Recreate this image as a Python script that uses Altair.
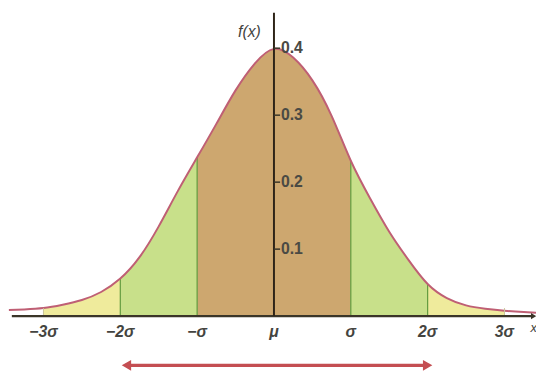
import altair as alt
import pandas as pd

# curve samples (x in sigma units, f(x))
curve_x = [-3.45, -3.25, -3.0, -2.75, -2.5, -2.25, -2.0, -1.75, -1.5, -1.25, -1.0,
           -0.75, -0.5, -0.25, 0.0, 0.25, 0.5, 0.75, 1.0, 1.25, 1.5, 1.75, 2.0,
           2.25, 2.5, 2.75, 3.0, 3.25, 3.41]
curve_y = [0.009, 0.010, 0.012, 0.017, 0.024, 0.036, 0.056, 0.088, 0.134, 0.187, 0.237,
           0.287, 0.337, 0.377, 0.399, 0.386, 0.352, 0.299, 0.232, 0.176, 0.126, 0.084, 0.048,
           0.027, 0.016, 0.011, 0.008, 0.006, 0.005]

# shaded regions: (start, end, kind)
region_start = [-3.0, -2.0, -1.0, 1.0, 2.0]
region_end = [-2.0, -1.0, 1.0, 2.0, 3.0]
region_kind = ["yellow", "green", "brown", "green", "yellow"]
region_colors = {"yellow": "#efeb9c", "green": "#c8e08a", "brown": "#cda76f"}

boundaries = [-2.0, -1.0, 1.0, 2.0]

xtick_vals = [-3, -2, -1, 0, 1, 2, 3]
xtick_labels = ["−3σ", "−2σ", "−σ", "μ", "σ", "2σ", "3σ"]
ytick_vals = [0.1, 0.2, 0.3, 0.4]
ytick_labels = ["0.1", "0.2", "0.3", "0.4"]

arrow_from, arrow_to = -1.92, 2.0

XD = [-3.4615, 3.4103]
YD = [-0.0853, 0.4559]
xs = alt.Scale(domain=XD)
ys = alt.Scale(domain=YD)

curve = pd.DataFrame({"x": curve_x, "y": curve_y})
lookup = dict(zip(curve_x, curve_y))

rows = []
for i, (a, b, k) in enumerate(zip(region_start, region_end, region_kind)):
    for xv in curve_x:
        if a <= xv <= b:
            rows.append({"x": xv, "y": lookup[xv], "y0": 0.0, "seg": i, "kind": k})
regions = pd.DataFrame(rows)

X = alt.X("x:Q", scale=xs, axis=None)
Y = alt.Y("y:Q", scale=ys, axis=None)

area = alt.Chart(regions).mark_area(opacity=1, interpolate="natural").encode(
    x=X, y=Y, y2="y0:Q", detail="seg:N",
    color=alt.Color("kind:N", scale=alt.Scale(domain=list(region_colors.keys()),
                                               range=list(region_colors.values())), legend=None),
)

bdf = pd.DataFrame({"x": boundaries, "y": [lookup[b] for b in boundaries], "y0": [0.0] * 4})
blines = alt.Chart(bdf).mark_rule(color="#5f9a3c", strokeWidth=1.2).encode(
    x=X, y=Y, y2="y0:Q")

line = alt.Chart(curve).mark_line(color="#bf5f74", strokeWidth=2, interpolate="natural").encode(x=X, y=Y)

# axes
xaxis = alt.Chart(pd.DataFrame({"x": [XD[0] + 0.05], "x1": [3.37], "y": [0.0]})).mark_rule(
    color="#3a3528", strokeWidth=2.5).encode(x=X, x2="x1:Q", y=Y)
xhead = alt.Chart(pd.DataFrame({"x": [3.38], "y": [0.0]})).mark_point(
    shape="triangle-right", filled=True, size=40, color="#3a3528", opacity=1).encode(x=X, y=Y)
yaxis = alt.Chart(pd.DataFrame({"x": [0.0], "y": [0.0], "y1": [0.4529]})).mark_rule(
    color="#2e2418", strokeWidth=2).encode(x=X, y=Y, y2="y1:Q")

yt = pd.DataFrame({"y": ytick_vals, "lab": ytick_labels, "x": [0.0] * 4, "x1": [0.08] * 4,
                   "xl": [0.09] * 4})
yticks = alt.Chart(yt).mark_rule(color="#3a3528", strokeWidth=1.5).encode(
    x=X, x2="x1:Q", y=Y)
ylabs = alt.Chart(yt).mark_text(align="left", baseline="middle", fontSize=16, fontWeight="bold",
                                font="Liberation Sans", color="#4a4a44").encode(
    x=alt.X("xl:Q", scale=xs, axis=None), y=Y, text="lab:N")

xt = pd.DataFrame({"x": xtick_vals, "lab": xtick_labels, "y": [-0.024] * 7})
xtick3 = alt.Chart(pd.DataFrame({"x": [-3.0, 3.0], "y": [0.012, 0.012], "y0": [0.0, 0.0]})).mark_rule(
    color="#c9c49a", strokeWidth=1).encode(x=X, y=Y, y2="y0:Q")
xlabs = alt.Chart(xt).mark_text(baseline="middle", fontSize=16, fontStyle="italic", fontWeight="bold",
                                font="Liberation Sans", color="#444440").encode(
    x=X, y=Y, text="lab:N")

fx = alt.Chart(pd.DataFrame({"x": [-0.32], "y": [0.424], "t": ["f(x)"]})).mark_text(
    fontSize=16, fontStyle="italic", font="Liberation Sans", color="#444440").encode(
    x=X, y=Y, text="t:N")
xlab = alt.Chart(pd.DataFrame({"x": [3.34], "y": [-0.018], "t": ["x"]})).mark_text(
    align="left", fontSize=13, fontStyle="italic", font="Liberation Sans", color="#444440").encode(
    x=X, y=Y, text="t:N")

# red double arrow
ay = -0.0735
arrow = alt.Chart(pd.DataFrame({"x": [arrow_from + 0.05], "x1": [arrow_to - 0.05], "y": [ay]})).mark_rule(
    color="#c44e52", strokeWidth=3.5).encode(x=X, x2="x1:Q", y=Y)
heads_l = alt.Chart(pd.DataFrame({"x": [arrow_from], "y": [ay]})).mark_point(
    shape="triangle-left", filled=True, size=120, color="#c44e52", opacity=1).encode(x=X, y=Y)
heads_r = alt.Chart(pd.DataFrame({"x": [arrow_to], "y": [ay]})).mark_point(
    shape="triangle-right", filled=True, size=120, color="#c44e52", opacity=1).encode(x=X, y=Y)

chart = alt.layer(area, blines, line, xtick3, xaxis, xhead, yaxis, yticks, ylabs, xlabs, fx, xlab,
                  arrow, heads_l, heads_r).properties(
    width=536, height=368, padding=0, autosize=alt.AutoSizeParams(type="none"),
    background="#ffffff").configure_view(stroke=None)

chart.save("out.html", embed_options={"renderer": "svg", "actions": False})
